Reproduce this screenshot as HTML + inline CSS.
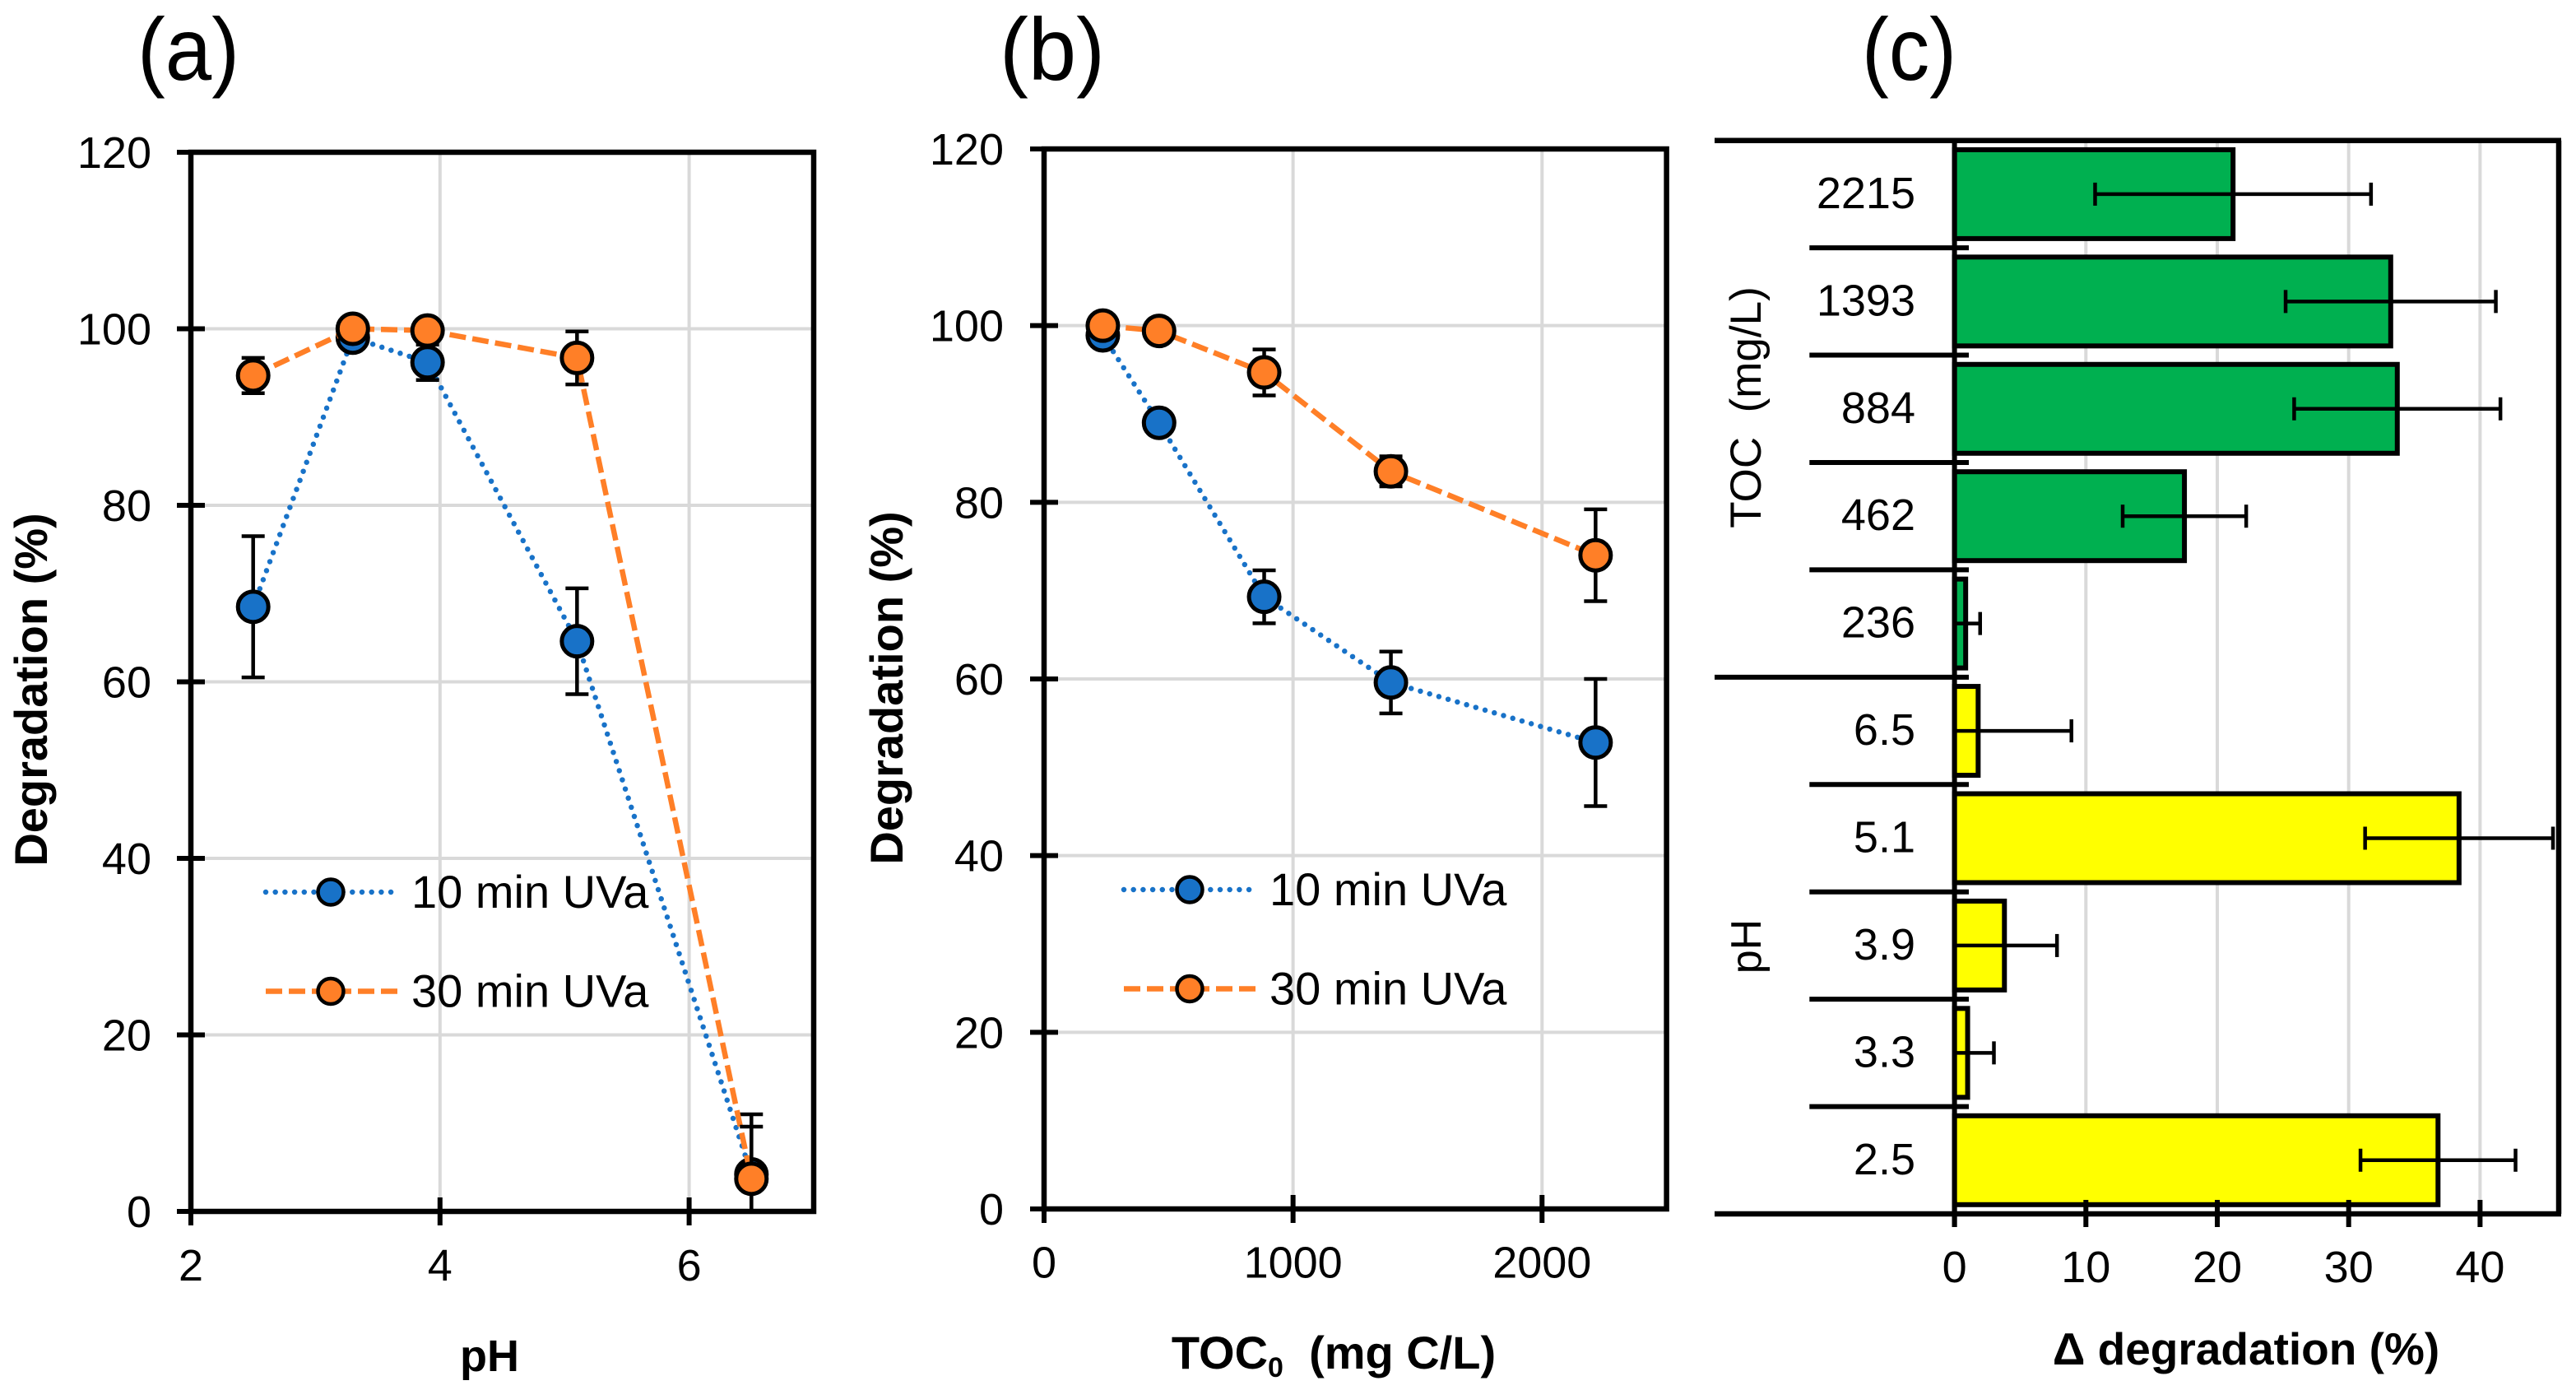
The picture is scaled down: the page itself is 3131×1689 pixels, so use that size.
<!DOCTYPE html>
<html lang="en">
<head>
<meta charset="utf-8">
<title>Degradation charts</title>
<style>
html,body{margin:0;padding:0;background:#fff;}
#figure{display:block;}
text{font-family:"Liberation Sans",Arial,sans-serif;fill:#000;white-space:pre;}
.bold{font-weight:700;}
</style>
</head>
<body>
<svg id="figure" xmlns="http://www.w3.org/2000/svg" width="3131" height="1689" viewBox="0 0 3131 1689">
  <rect x="0" y="0" width="3131" height="1689" fill="#fff"/>
  <text x="167" y="97" font-size="108" textLength="124" lengthAdjust="spacingAndGlyphs">(a)</text>
  <text x="1215" y="97" font-size="108" textLength="128" lengthAdjust="spacingAndGlyphs">(b)</text>
  <text x="2263" y="97" font-size="108" textLength="115" lengthAdjust="spacingAndGlyphs">(c)</text>

  <g id="chart-a"></g>
  <g id="chart-b"></g>
  <g id="chart-c"></g>

  <text class="bold" font-size="56" text-anchor="middle" transform="translate(57 838) rotate(-90)">Degradation (%)</text>
  <text class="bold" font-size="54" text-anchor="middle" x="595" y="1666">pH</text>
  <text class="bold" font-size="56" text-anchor="middle" transform="translate(1097 836) rotate(-90)">Degradation (%)</text>
  <text class="bold" font-size="56" text-anchor="middle" x="1621" y="1663">TOC<tspan font-size="34" dy="10">0</tspan><tspan dy="-10">  (mg C/L)</tspan></text>
  <text class="bold" font-size="55" text-anchor="middle" x="2730" y="1658">Δ degradation (%)</text>
  <text font-size="53" text-anchor="middle" transform="translate(2140 495) rotate(-90)">TOC  (mg/L)</text>
  <text font-size="52" text-anchor="middle" transform="translate(2140 1150) rotate(-90)">pH</text>
</svg>

<script>
// ---- Panel (a) data ----
const phCategories = [2.5, 3.3, 3.9, 5.1, 6.5];
const phDeg10 = [68.5, 99, 96.2, 64.6, 4.2];
const phDeg30 = [94.7, 100, 99.8, 96.7, 3.7];
const phErr10 = [8, 1, 2, 6, 6.8];
const phErr30 = [2, 0.2, 1.2, 3, 5.9];
const phXTicks = [2, 4, 6];

// ---- Panel (b) data ----
const tocCategories = [236, 462, 884, 1393, 2215];
const tocDeg10 = [98.9, 89, 69.3, 59.6, 52.8];
const tocDeg30 = [100, 99.4, 94.7, 83.5, 74];
const tocErr10 = [0.5, 0.5, 3, 3.5, 7.2];
const tocErr30 = [0.3, 0.4, 2.6, 1.7, 5.2];
const tocXTicks = [0, 1000, 2000];

// ---- Shared tick labels ----
const degYTicks = [0, 20, 40, 60, 80, 100, 120];
const seriesNames = ['10 min UVa', '30 min UVa'];

// ---- Panel (c) data (top to bottom) ----
const deltaTocLabels = ['2215', '1393', '884', '462', '236'];
const deltaTocValues = [21.2, 33.2, 33.7, 17.5, 0.85];
const deltaTocErrors = [10.5, 8, 7.85, 4.7, 1.1];
const deltaPhLabels = ['6.5', '5.1', '3.9', '3.3', '2.5'];
const deltaPhValues = [1.8, 38.4, 3.8, 1.0, 36.8];
const deltaPhErrors = [7.1, 7.15, 4, 2, 5.9];
const deltaXTicks = [0, 10, 20, 30, 40];

const NS = 'http://www.w3.org/2000/svg';
const BLUE = '#1872c8';
const ORANGE = '#ff7f27';
const GRID = '#d9d9d9';

function add(parent, tag, attrs, txt) {
  const el = document.createElementNS(NS, tag);
  for (const k in attrs) el.setAttribute(k, attrs[k]);
  if (txt !== undefined) el.textContent = txt;
  parent.appendChild(el);
  return el;
}
function seg(parent, x1, y1, x2, y2, color, w) {
  return add(parent, 'line', {x1, y1, x2, y2, stroke: color, 'stroke-width': w});
}

function drawLineChart(rootId, cfg) {
  const root = document.getElementById(rootId);
  const X = v => cfg.left + (v - cfg.xMin) * (cfg.right - cfg.left) / (cfg.xMax - cfg.xMin);
  const Y = v => cfg.bottom - v * (cfg.bottom - cfg.top) / 120;

  // gridlines
  cfg.yTicks.forEach(t => {
    if (t > 0 && t < 120) {
      const g = seg(root, cfg.left, Y(t), cfg.right, Y(t), GRID, 4);
      
      
    }
  });
  cfg.xTicks.forEach(t => {
    if (t > cfg.xMin) {
      const g = seg(root, X(t), cfg.top, X(t), cfg.bottom, GRID, 4);
      
      
    }
  });

  // axes frame
  const frame = add(root, 'rect', {x: cfg.left, y: cfg.top, width: cfg.right - cfg.left, height: cfg.bottom - cfg.top, fill: 'none', stroke: '#000', 'stroke-width': 6.5});
  
  

  // ticks and tick labels
  cfg.yTicks.forEach(t => {
    const tk = seg(root, cfg.left - 17, Y(t), cfg.left + 17, Y(t), '#000', 6);
    
    
    const lb = add(root, 'text', {x: cfg.yLabelRight, y: Y(t) + 19, 'font-size': 54, 'text-anchor': 'end'}, String(t));
    
    
  });
  cfg.xTicks.forEach(t => {
    const tk = seg(root, X(t), cfg.bottom - 17, X(t), cfg.bottom + 17, '#000', 6);
    
    
    const lb = add(root, 'text', {x: X(t), y: cfg.xLabelBase, 'font-size': 54, 'text-anchor': 'middle'}, String(t));
    
    
  });

  // series
  cfg.series.forEach((s, si) => {
    const grp = add(root, 'g', {});
    
    
    const pts = cfg.x.map((v, i) => X(v).toFixed(1) + ',' + Y(s.values[i]).toFixed(1)).join(' ');
    const line = add(grp, 'polyline', Object.assign({points: pts, fill: 'none', stroke: s.color}, s.dash));
    
    
    cfg.x.forEach((v, i) => {
      const hi = s.values[i] + s.errors[i];
      const lo = s.values[i] - s.errors[i];
      const eg = add(grp, 'g', {});
      
      
      seg(eg, X(v), Y(hi), X(v), Y(Math.max(lo, 0)), '#000', 4.5);
      seg(eg, X(v) - 14, Y(hi), X(v) + 14, Y(hi), '#000', 4.5);
      if (lo >= 0) seg(eg, X(v) - 14, Y(lo), X(v) + 14, Y(lo), '#000', 4.5);
    });
    cfg.x.forEach((v, i) => {
      const m = add(grp, 'circle', {cx: X(v), cy: Y(s.values[i]), r: 18.5, fill: s.color, stroke: '#000', 'stroke-width': 5});
      
      
    });
  });

  // legend
  cfg.series.forEach((s, si) => {
    const lg = add(root, 'g', {});
    
    
    const ly = cfg.legendY[si];
    const ln = add(lg, 'line', Object.assign({x1: cfg.legendX1, y1: ly, x2: cfg.legendX2 + (si ? 7 : 0), y2: ly, stroke: s.color}, s.dash));
    
    
    const mk = add(lg, 'circle', {cx: cfg.legendMarker, cy: ly, r: 15.5, fill: s.color, stroke: '#000', 'stroke-width': 4.5});
    
    
    const tx = add(lg, 'text', {x: cfg.legendText, y: ly + 19, 'font-size': 56}, seriesNames[si]);
    
    
  });
}

const dotted = {'stroke-width': 6.5, 'stroke-dasharray': '0 11.7', 'stroke-linecap': 'round'};
const dashed = {'stroke-width': 6.5, 'stroke-dasharray': '20 8'};

drawLineChart('chart-a', {
  left: 232, right: 989, top: 185, bottom: 1472, xMin: 2, xMax: 7,
  x: phCategories, xTicks: phXTicks, yTicks: degYTicks,
  yLabelRight: 184, xLabelBase: 1556,
  legendY: [1084, 1204.5], legendX1: 323, legendX2: 479, legendMarker: 402, legendText: 500,
  series: [
    {values: phDeg10, errors: phErr10, color: BLUE, dash: dotted},
    {values: phDeg30, errors: phErr30, color: ORANGE, dash: dashed}
  ]
});

drawLineChart('chart-b', {
  left: 1269, right: 2025.6, top: 181, bottom: 1469, xMin: 0, xMax: 2500,
  x: tocCategories, xTicks: tocXTicks, yTicks: degYTicks,
  yLabelRight: 1220, xLabelBase: 1552.5,
  legendY: [1081, 1201.5], legendX1: 1366, legendX2: 1523, legendMarker: 1446, legendText: 1543,
  series: [
    {values: tocDeg10, errors: tocErr10, color: BLUE, dash: dotted},
    {values: tocDeg30, errors: tocErr30, color: ORANGE, dash: dashed}
  ]
});

(function drawBars() {
  const root = document.getElementById('chart-c');
  const x0 = 2375.6, top = 170.7, bottom = 1475, right = 3110, far = 2084;
  const labels = deltaTocLabels.concat(deltaPhLabels);
  const values = deltaTocValues.concat(deltaPhValues);
  const errors = deltaTocErrors.concat(deltaPhErrors);
  const band = (bottom - top) / labels.length;
  const X = v => x0 + v * 15.97;
  const Yc = i => top + band * (i + 0.5);

  deltaXTicks.forEach(t => {
    if (t > 0) {
      const g = seg(root, X(t), top, X(t), bottom, GRID, 4);
      
      
    }
  });

  labels.forEach((lab, i) => {
    const isToc = i < deltaTocLabels.length;
    const b = add(root, 'rect', {x: x0, y: Yc(i) - 54, width: X(values[i]) - x0, height: 108, fill: isToc ? '#00b050' : '#ffff00', stroke: '#000', 'stroke-width': 6});
    
    
    const lb = add(root, 'text', {x: 2328, y: Yc(i) + 17, 'font-size': 54, 'text-anchor': 'end'}, lab);
    
    
  });

  labels.forEach((lab, i) => {
    const lo = values[i] - errors[i];
    const hi = values[i] + errors[i];
    const eg = add(root, 'g', {});
    
    
    seg(eg, X(Math.max(lo, 0)), Yc(i), X(hi), Yc(i), '#000', 4.5);
    seg(eg, X(hi), Yc(i) - 14, X(hi), Yc(i) + 14, '#000', 4.5);
    if (lo >= 0) seg(eg, X(lo), Yc(i) - 14, X(lo), Yc(i) + 14, '#000', 4.5);
  });

  // separators between categories
  for (let i = 1; i < labels.length; i++) {
    const y = top + band * i;
    const start = i === deltaTocLabels.length ? far : 2199.3;
    const s = seg(root, start, y, 2393, y, '#000', 6);
    
    
  }

  const topLine = seg(root, far, top, right + 3, top, '#000', 6.5);
  
  
  const botLine = seg(root, far, bottom, right + 3, bottom, '#000', 6.5);
  
  
  const rightLine = seg(root, right, top, right, bottom, '#000', 6.5);
  
  
  const zeroLine = seg(root, x0, top, x0, bottom + 16, '#000', 6);
  
  

  deltaXTicks.forEach(t => {
    const tk = seg(root, X(t), bottom - 17, X(t), bottom + 16, '#000', 6);
    
    
    const lb = add(root, 'text', {x: X(t), y: 1558, 'font-size': 54, 'text-anchor': 'middle'}, String(t));
    
    
  });
})();
</script>
</body>
</html>
